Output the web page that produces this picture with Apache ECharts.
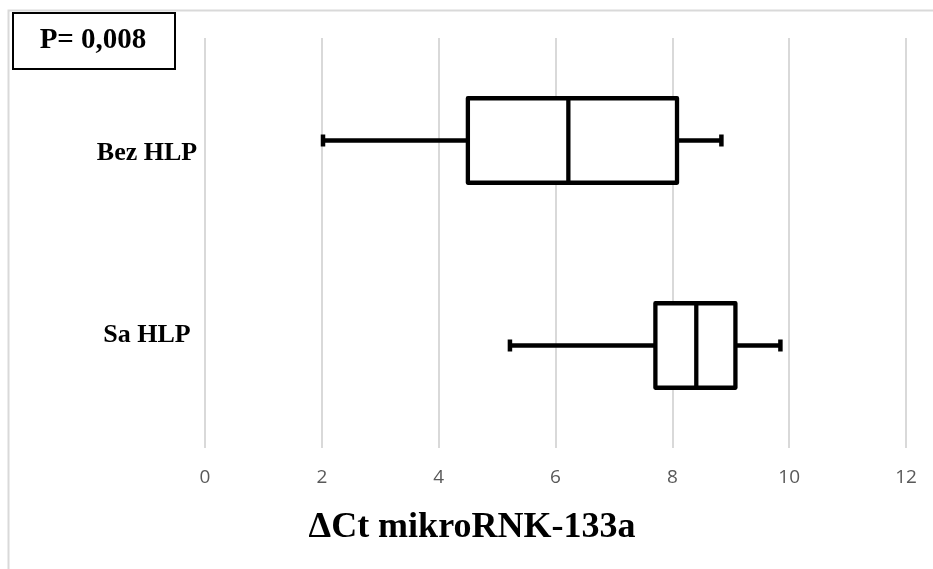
<!DOCTYPE html>
<html>
<head>
<meta charset="utf-8">
<script src="https://cdn.jsdelivr.net/npm/echarts@6/dist/echarts.min.js"></script>
<style>html,body{margin:0;padding:0;background:#fff}#c{width:933px;height:569px}</style>
</head>
<body>
<div id="c"></div>
<script>
const categories = ['Bez HLP', 'Sa HLP'];
const minVals = [2.02, 5.22];
const q1Vals = [4.50, 7.71];
const medianVals = [6.22, 8.41];
const q3Vals = [8.08, 9.08];
const maxVals = [8.84, 9.85];
const xMin = 0, xMax = 12, xInterval = 2;
const pText = 'P= 0,008';
const axisTitle = 'ΔCt mikroRNK-133a';

const seriesData = categories.map((c, i) => [i, minVals[i], q1Vals[i], medianVals[i], q3Vals[i], maxVals[i]]);

const chart = echarts.init(document.getElementById('c'), null, {renderer: 'canvas'});
chart.setOption({
  animation: false,
  backgroundColor: '#fff',
  grid: {left: 205, right: 27, top: 38, bottom: 121, containLabel: false},
  xAxis: {
    type: 'value', min: xMin, max: xMax, interval: xInterval,
    axisLine: {show: false}, axisTick: {show: false},
    splitLine: {show: true, lineStyle: {color: '#d9d9d9', width: 2}},
    axisLabel: {color: '#595959', fontSize: 19, fontFamily: 'Open Sans', margin: 20}
  },
  yAxis: {
    type: 'category', data: categories, inverse: true,
    axisLine: {show: false}, axisTick: {show: false}, splitLine: {show: false},
    axisLabel: {
      margin: 58, align: 'center',
      formatter: function (v) { return v === categories[0] ? '{a|' + v + '}' : '{b|' + v + '}'; },
      rich: {
        a: {fontFamily: 'Liberation Serif', fontWeight: 'bold', fontSize: 26, color: '#000', padding: [26, 0, 0, 0]},
        b: {fontFamily: 'Liberation Serif', fontWeight: 'bold', fontSize: 26, color: '#000', padding: [0, 0, 20, 0]}
      }
    }
  },
  series: [{
    type: 'custom',
    data: seriesData,
    encode: {x: [1, 2, 3, 4, 5], y: 0},
    renderItem: function (params, api) {
      const cat = api.value(0);
      const pMin = api.coord([api.value(1), cat]);
      const pQ1 = api.coord([api.value(2), cat]);
      const pMed = api.coord([api.value(3), cat]);
      const pQ3 = api.coord([api.value(4), cat]);
      const pMax = api.coord([api.value(5), cat]);
      const band = api.size([0, 1])[1];
      const h = band * 0.206;
      const cy = pMed[1];
      const capH = 6;
      const ls = {stroke: '#000', lineWidth: 4.3, lineCap: 'butt'};
      return {
        type: 'group',
        children: [
          {type: 'line', shape: {x1: pMin[0], y1: cy, x2: pQ1[0], y2: cy}, style: ls},
          {type: 'line', shape: {x1: pQ3[0], y1: cy, x2: pMax[0], y2: cy}, style: ls},
          {type: 'line', shape: {x1: pMin[0], y1: cy - capH, x2: pMin[0], y2: cy + capH}, style: {stroke: '#000', lineWidth: 4.5}},
          {type: 'line', shape: {x1: pMax[0], y1: cy - capH, x2: pMax[0], y2: cy + capH}, style: {stroke: '#000', lineWidth: 4.5}},
          {type: 'rect', shape: {x: pQ1[0], y: cy - h, width: pQ3[0] - pQ1[0], height: 2 * h},
            style: {fill: '#fff', stroke: '#000', lineWidth: 4.3, lineJoin: 'round'}},
          {type: 'line', shape: {x1: pMed[0], y1: cy - h, x2: pMed[0], y2: cy + h}, style: ls}
        ]
      };
    }
  }],
  graphic: [
    {type: 'rect', left: 6, top: 8, silent: true, z: -1,
      shape: {width: 1000, height: 1000}, style: {fill: null, stroke: '#d9d9d9', lineWidth: 2}},
    {type: 'rect', left: 12, top: 12, silent: true,
      shape: {width: 162, height: 56}, style: {fill: '#fff', stroke: '#000', lineWidth: 2}},
    {type: 'text', x: 93, y: 41, silent: true,
      style: {text: pText, fontFamily: 'Liberation Serif', fontWeight: 'bold', fontSize: 29, fill: '#000', align: 'center', verticalAlign: 'middle'}},
    {type: 'text', x: 472, y: 528, silent: true,
      style: {text: axisTitle, fontFamily: 'Liberation Serif', fontWeight: 'bold', fontSize: 36, fill: '#000', align: 'center', verticalAlign: 'middle'}}
  ]
});
</script>
</body>
</html>
